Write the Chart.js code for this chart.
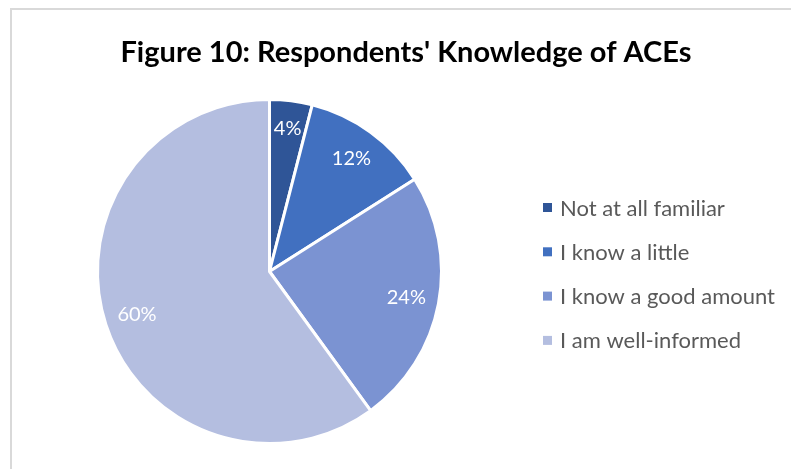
<!DOCTYPE html>
<html>
<head>
<meta charset="utf-8">
<script src="https://cdn.jsdelivr.net/npm/chart.js@4.4.1/dist/chart.umd.min.js"></script>
<style>
  html, body { margin: 0; padding: 0; background: #ffffff; overflow: hidden; }
  #frame { position: absolute; left: 10px; top: 8px; width: 800px; height: 480px;
           border: 2px solid #d9d9d9; box-sizing: border-box; }
  #wrap { position: absolute; left: 0; top: 0; width: 791px; height: 469px; }
</style>
</head>
<body>
<div id="frame"></div>
<div id="wrap"><canvas id="chart" width="791" height="469"></canvas></div>
<script>
// Survey answers and their shares (percent)
const categories = ['Not at all familiar', 'I know a little', 'I know a good amount', 'I am well-informed'];
const shares = [4, 12, 24, 60];
const sliceColors = ['#2f5597', '#4170c0', '#7b93d2', '#b4bee0'];
const chartTitle = "Figure 10: Respondents' Knowledge of ACEs";

const FONT = 'Lato, "Open Sans", sans-serif';

// Title, percentage labels and legend drawn on the canvas
const decorations = {
  id: 'decorations',
  afterDatasetsDraw(chart) {
    const ctx = chart.ctx;
    const meta = chart.getDatasetMeta(0);
    ctx.save();

    // percentage labels inside each slice
    ctx.fillStyle = '#ffffff';
    ctx.font = '20px ' + FONT;
    ctx.textAlign = 'center';
    ctx.textBaseline = 'middle';
    meta.data.forEach((arc, i) => {
      const p = arc.getProps(['x', 'y', 'startAngle', 'endAngle', 'outerRadius'], true);
      const mid = (p.startAngle + p.endAngle) / 2;
      const r = p.outerRadius * (i === 0 ? 0.84 : 0.81);
      ctx.fillText(shares[i] + '%', p.x + Math.cos(mid) * r, p.y + Math.sin(mid) * r);
    });

    // title
    ctx.fillStyle = '#000000';
    ctx.font = 'bold 29px ' + FONT;
    ctx.textAlign = 'center';
    ctx.textBaseline = 'alphabetic';
    ctx.fillText(chartTitle, 406, 62);

    // legend
    ctx.font = '22px ' + FONT;
    ctx.textAlign = 'left';
    ctx.textBaseline = 'middle';
    categories.forEach((name, i) => {
      const cy = 207.5 + i * 44.3;
      ctx.fillStyle = sliceColors[i];
      ctx.fillRect(543, cy - 4.5, 9, 9);
      ctx.fillStyle = '#595959';
      ctx.fillText(name, 560, cy + 1);
    });
    ctx.restore();
  }
};

new Chart(document.getElementById('chart'), {
  type: 'pie',
  data: {
    labels: categories,
    datasets: [{
      data: shares,
      backgroundColor: sliceColors,
      borderColor: '#ffffff',
      borderWidth: 3
    }]
  },
  options: {
    responsive: false,
    animation: false,
    events: [],
    layout: { padding: { left: 96, right: 348, top: 98, bottom: 24 } },
    plugins: {
      legend: { display: false },
      title: { display: false },
      tooltip: { enabled: false }
    }
  },
  plugins: [decorations]
});
</script>
</body>
</html>
